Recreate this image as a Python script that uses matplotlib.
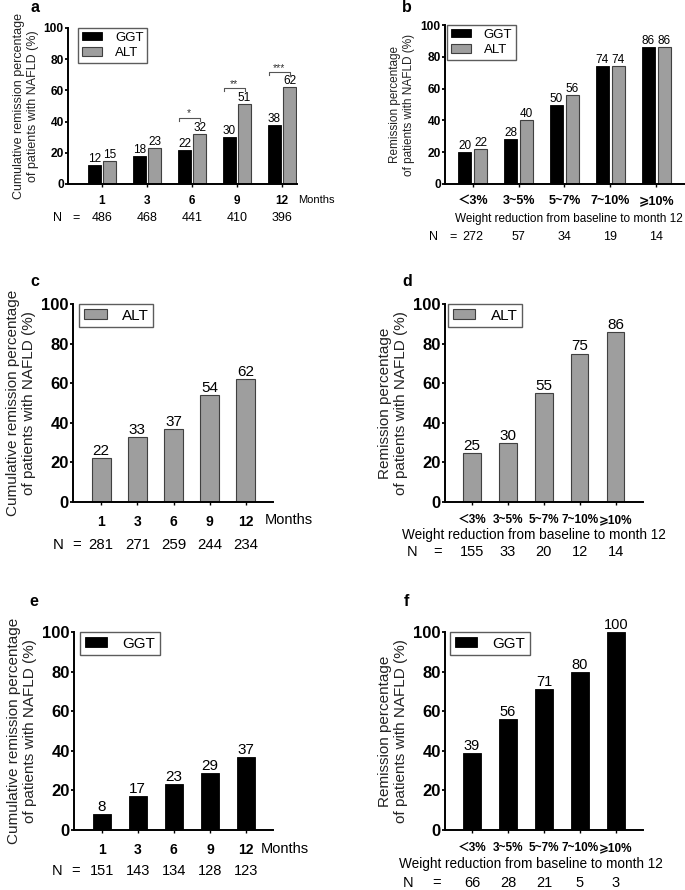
import matplotlib
matplotlib.use('Agg')
import matplotlib.pyplot as plt
from matplotlib.transforms import blended_transform_factory
import numpy as np

plt.rcParams['font.family'] = ['Liberation Sans', 'DejaVu Sans', 'Noto Sans CJK SC']

W, H = 685, 890

months = ['1', '3', '6', '9', '12']
weight_groups = ['＜3%', '3~5%', '5~7%', '7~10%', '⩾10%']

# panel a: by month, GGT vs ALT
a_ggt = [12, 18, 22, 30, 38]
a_alt = [15, 23, 32, 51, 62]
a_n = [486, 468, 441, 410, 396]
a_stars = ['', '', '*', '**', '***']
a_bracket = [None, None, 42.5, 61.3, 71.6]

# panel b: by weight reduction, GGT vs ALT
b_ggt = [20, 28, 50, 74, 86]
b_alt = [22, 40, 56, 74, 86]
b_n = [272, 57, 34, 19, 14]

# panel c / d: ALT only
c_alt = [22, 33, 37, 54, 62]
c_n = [281, 271, 259, 244, 234]
d_alt = [25, 30, 55, 75, 86]
d_n = [155, 33, 20, 12, 14]

# panel e / f: GGT only
e_ggt = [8, 17, 23, 29, 37]
e_n = [151, 143, 134, 128, 123]
f_ggt = [39, 56, 71, 80, 100]
f_n = [66, 28, 21, 5, 3]

GGT_COL = '#000000'
ALT_COL = '#9e9e9e'
ALT_EDGE = '#404040'

fig = plt.figure(figsize=(W / 100, H / 100), dpi=100)


def px_axes(left, top, right, bottom):
    return fig.add_axes([left / W, 1 - bottom / H, (right - left) / W, (bottom - top) / H])


def fy(ypx):
    return 1 - ypx / H


def fx(xpx):
    return xpx / W


def style(ax, xlim, ytick_fs, xtick_fs, xlabels, xpad, ylabel, ylabel_fs, labelpad):
    ax.set_xlim(*xlim)
    ax.set_ylim(0, 100)
    ax.set_yticks([0, 20, 40, 60, 80, 100])
    ax.set_xticks(np.arange(5))
    ax.set_xticklabels(xlabels, fontweight='bold', fontsize=xtick_fs)
    for s in ['top', 'right']:
        ax.spines[s].set_visible(False)
    for s in ['left', 'bottom']:
        ax.spines[s].set_linewidth(1.4)
    ax.tick_params(axis='y', direction='out', length=2.5, width=1.3, pad=0.5,
                   labelsize=ytick_fs)
    ax.tick_params(axis='x', direction='out', length=2.5, width=1.0, pad=xpad)
    for lab in ax.get_yticklabels():
        lab.set_fontweight('bold')
    ax.set_ylabel(ylabel, fontsize=ylabel_fs, labelpad=labelpad, color='#222222')


def legend(ax, handles, labels, x0, fs, spacing):
    leg = ax.legend(handles, labels, loc='upper left', bbox_to_anchor=(x0, 1.0),
                    borderaxespad=0, frameon=True, fancybox=False, fontsize=fs,
                    handlelength=1.5, handleheight=0.6, handletextpad=1.0,
                    labelspacing=spacing, borderpad=0.3)
    leg.get_frame().set_edgecolor('#333333')
    leg.get_frame().set_linewidth(1.0)


def n_row(ax, ypx, n_vals, n_x, eq_x, fs):
    tr = blended_transform_factory(ax.transData, fig.transFigure)
    fig.text(fx(n_x), fy(ypx), 'N', ha='center', va='center', fontsize=fs)
    fig.text(fx(eq_x), fy(ypx), '=', ha='center', va='center', fontsize=fs)
    for i, n in enumerate(n_vals):
        ax.text(i, fy(ypx), str(n), transform=tr, ha='center', va='center',
                fontsize=fs, clip_on=False)


x = np.arange(5)
ylab_cum = 'Cumulative remission percentage\nof patients with NAFLD (%)'
ylab_rem = 'Remission percentage\nof patients with NAFLD (%)'
wlab = 'Weight reduction from baseline to month 12'

# ---------------- a ----------------
ax = px_axes(68, 28, 297, 184)
w, off = 0.28, 0.167
b1 = ax.bar(x - off, a_ggt, w, color=GGT_COL, edgecolor=GGT_COL, linewidth=0.6, label='GGT')
b2 = ax.bar(x + off, a_alt, w, color=ALT_COL, edgecolor=ALT_EDGE, linewidth=0.8, label='ALT')
ax.bar_label(b1, fontsize=8.5, padding=0)
ax.bar_label(b2, fontsize=8.5, padding=0)
style(ax, (-0.756, 4.333), 8.6, 8.5, months, 5.6, ylab_cum, 9, 3.5)
legend(ax, [b1, b2], ['GGT', 'ALT'], 0.044, 9.5, 0.25)
for i, (st, yb) in enumerate(zip(a_stars, a_bracket)):
    if yb is None:
        continue
    l, r = i - 0.3, i + 0.17
    ax.plot([l, l, r, r], [yb - 2, yb, yb, yb - 2], color='#555555', lw=0.8, clip_on=False)
    ax.text((l + r) / 2, yb - 0.5, st, ha='center', va='bottom', fontsize=7.5, color='#333333')
fig.text(fx(298), fy(200), 'Months', ha='left', va='center', fontsize=8)
n_row(ax, 218, a_n, 57, 76, 9)
fig.text(fx(35), fy(7), 'a', fontweight='bold', fontsize=11.5, ha='center', va='center')

# ---------------- b ----------------
ax = px_axes(445, 25, 685, 184)
w, off = 0.283, 0.175
b1 = ax.bar(x - off, b_ggt, w, color=GGT_COL, edgecolor=GGT_COL, linewidth=0.6)
b2 = ax.bar(x + off, b_alt, w, color=ALT_COL, edgecolor=ALT_EDGE, linewidth=0.8)
ax.bar_label(b1, fontsize=8.5, padding=0)
ax.bar_label(b2, fontsize=8.5, padding=0)
style(ax, (-0.606, 4.628), 8.6, 9, weight_groups, 5.4, ylab_rem, 8.5, 4)
legend(ax, [b1, b2], ['GGT', 'ALT'], 0.008, 9.5, 0.25)
fig.text(fx(569), fy(219), wlab, ha='center', va='center', fontsize=8.5)
n_row(ax, 237, b_n, 433, 453, 9)
fig.text(fx(407), fy(7), 'b', fontweight='bold', fontsize=11.5, ha='center', va='center')

# ---------------- c ----------------
ax = px_axes(73, 304, 273, 502)
b2 = ax.bar(x, c_alt, 0.525, color=ALT_COL, edgecolor=ALT_EDGE, linewidth=0.8)
ax.bar_label(b2, fontsize=11, padding=0)
style(ax, (-0.78, 4.75), 12, 10, months, 6.5, ylab_cum, 11, 4)
legend(ax, [b2], ['ALT'], 0.03, 11, 0.25)
fig.text(fx(265), fy(520), 'Months', ha='left', va='center', fontsize=10.5)
n_row(ax, 545, c_n, 58, 77, 10.8)
fig.text(fx(35), fy(282), 'c', fontweight='bold', fontsize=11.5, ha='center', va='center')

# ---------------- d ----------------
ax = px_axes(445, 304, 643, 502)
b2 = ax.bar(x, d_alt, 0.485, color=ALT_COL, edgecolor=ALT_EDGE, linewidth=0.8)
ax.bar_label(b2, fontsize=11, padding=0)
style(ax, (-0.75, 4.76), 12, 8.5, weight_groups, 6.3, ylab_rem, 11, 4)
legend(ax, [b2], ['ALT'], 0.015, 11, 0.25)
fig.text(fx(534), fy(535), wlab, ha='center', va='center', fontsize=9.8)
n_row(ax, 552, d_n, 412, 438, 10.5)
fig.text(fx(407), fy(282), 'd', fontweight='bold', fontsize=11.5, ha='center', va='center')

# ---------------- e ----------------
ax = px_axes(74, 632, 273, 830)
b1 = ax.bar(x, e_ggt, 0.5, color=GGT_COL, edgecolor=GGT_COL, linewidth=0.6)
ax.bar_label(b1, fontsize=11, padding=0)
style(ax, (-0.77, 4.75), 12, 10, months, 7.2, ylab_cum, 11, 4)
legend(ax, [b1], ['GGT'], 0.03, 11, 0.25)
fig.text(fx(261), fy(849), 'Months', ha='left', va='center', fontsize=10.5)
n_row(ax, 871, e_n, 57, 76, 10.5)
fig.text(fx(34), fy(601), 'e', fontweight='bold', fontsize=11.5, ha='center', va='center')

# ---------------- f ----------------
ax = px_axes(445, 632, 643, 830)
b1 = ax.bar(x, f_ggt, 0.48, color=GGT_COL, edgecolor=GGT_COL, linewidth=0.6)
ax.bar_label(b1, fontsize=10.5, padding=0)
style(ax, (-0.75, 4.75), 12, 8.5, weight_groups, 6.3, ylab_rem, 11, 4)
legend(ax, [b1], ['GGT'], 0.025, 11, 0.25)
fig.text(fx(531), fy(864), wlab, ha='center', va='center', fontsize=9.8)
n_row(ax, 883, f_n, 408, 437, 10.5)
fig.text(fx(406), fy(602), 'f', fontweight='bold', fontsize=11.5, ha='center', va='center')

fig.savefig('out.png', dpi=100)
